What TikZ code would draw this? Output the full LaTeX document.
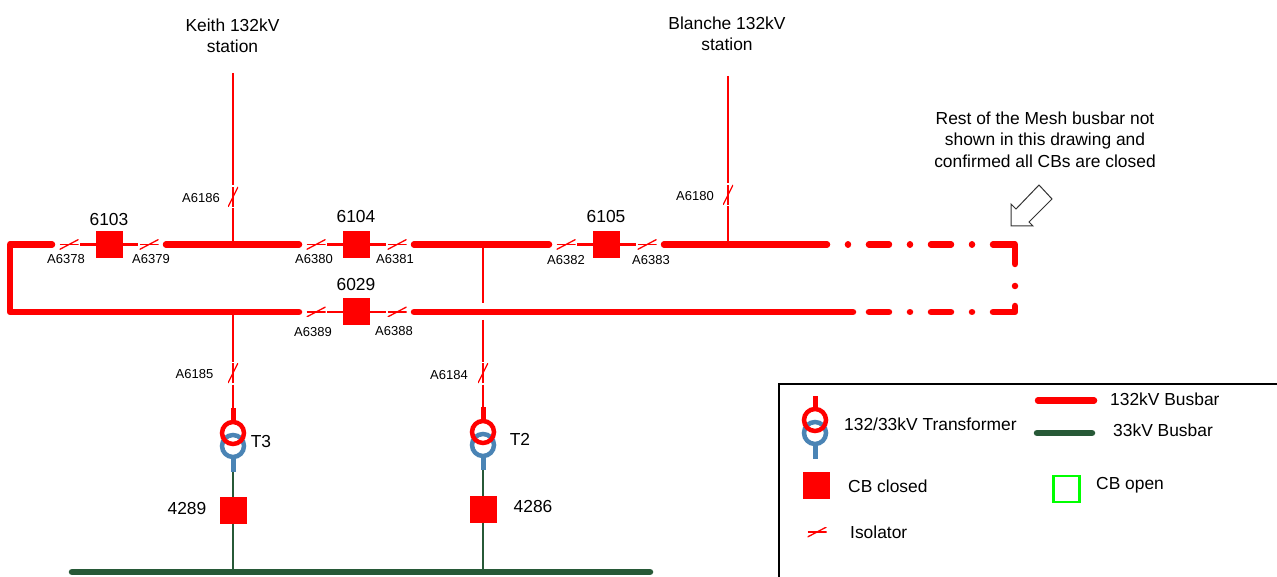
\documentclass[tikz,border=0pt]{standalone}
\usepackage{fontspec}
\setmainfont{Liberation Sans}
\definecolor{bus132}{HTML}{FF0000}
\definecolor{bus33}{HTML}{275937}
\definecolor{wdg33}{HTML}{4A84B5}
\definecolor{cbopen}{HTML}{00FF00}
\tikzset{
  cbclosed/.style={fill=bus132,minimum size=27pt,inner sep=0pt,outer sep=0pt},
  cbempty/.style={draw=cbopen,line width=2.5pt,minimum size=26pt,inner sep=0pt,outer sep=0pt},
  isoh/.style={minimum width=19pt,minimum height=10pt,inner sep=0pt,outer sep=1.5pt,
    path picture={\draw[bus132,line width=1.8pt] (path picture bounding box.west) -- (path picture bounding box.east);
      \draw[bus132,line width=1.3pt] (path picture bounding box.south west) -- (path picture bounding box.north east);}},
  isov/.style={minimum width=10pt,minimum height=20pt,inner sep=0pt,outer sep=1.5pt,
    path picture={\draw[bus132,line width=1.8pt] (path picture bounding box.south) -- (path picture bounding box.north);
      \draw[bus132,line width=1.3pt] (path picture bounding box.south west) -- (path picture bounding box.north east);}},
  wdgred/.style={circle,draw=bus132,line width=4.5pt,minimum size=22pt,inner sep=0pt,outer sep=0pt},
  wdgblue/.style={circle,draw=wdg33,line width=4.5pt,minimum size=22pt,inner sep=0pt,outer sep=0pt},
  thinred/.style={draw=bus132,line width=2.6pt},
  thingreen/.style={draw=bus33,line width=2.6pt},
  stubred/.style={draw=bus132,line width=5pt},
  stubblue/.style={draw=wdg33,line width=5pt},
  busred/.style={draw=bus132,line width=6.5pt,line cap=round,line join=round},
  busgreen/.style={draw=bus33,line width=6.5pt,line cap=round},
  dashred/.style={busred,dash pattern=on 0.01pt off 21pt on 20pt off 21pt},
  txt/.style={font=\fontsize{17.4}{21.5}\selectfont,text=black,inner sep=0pt,align=center},
  tag/.style={font=\fontsize{13}{15}\selectfont,text=black,inner sep=0pt},
}
\begin{document}
\begin{tikzpicture}[x=1pt,y=-1pt]
    \useasboundingbox (0,0) rectangle (1277,577);

    % circuit breakers
    \node [cbclosed] (cb6103) at (109,244.5) {};
    \node [cbclosed] (cb6104) at (356.5,244.5) {};
    \node [cbclosed] (cb6105) at (606,244.5) {};
    \node [cbclosed] (cb6029) at (356.5,312) {};
    \node [cbclosed] (cb4289) at (233,510) {};
    \node [cbclosed] (cb4286) at (483,509) {};

    % isolators
    \node [isoh] (iso6378) at (69,244.5) {};
    \node [isoh] (iso6379) at (149,244.5) {};
    \node [isoh] (iso6380) at (316,244.5) {};
    \node [isoh] (iso6381) at (397,244.5) {};
    \node [isoh] (iso6382) at (566,244.5) {};
    \node [isoh] (iso6383) at (647,244.5) {};
    \node [isoh] (iso6389) at (316,312) {};
    \node [isoh] (iso6388) at (397,312) {};
    \node [isov] (iso6186) at (233,197) {};
    \node [isov] (iso6180) at (728,195) {};
    \node [isov] (iso6185) at (233,373) {};
    \node [isov] (iso6184) at (483,373) {};

    % transformers
    \node [wdgblue] (t3lv) at (233,446) {};
    \node [wdgred] (t3hv) at (233,433) {};
    \node [wdgblue] (t2lv) at (483,445) {};
    \node [wdgred] (t2hv) at (483,432) {};

    % free ends
    \coordinate (keithTop) at (233,73);
    \coordinate (blancheTop) at (728,76);
    \coordinate (teeK) at (233,244.5);
    \coordinate (teeB) at (728,244.5);
    \coordinate (teeM) at (483,244.5);
    \coordinate (teeL) at (233,312);
    \coordinate (gapT) at (483,303);
    \coordinate (gapB) at (483,320);
    \coordinate (t3top) at (233,408);
    \coordinate (t2top) at (483,407);
    \coordinate (t3bot) at (233,472);
    \coordinate (t2bot) at (483,470);
    \coordinate (cornerT) at (10,244.5);
    \coordinate (cornerB) at (10,312);
    \coordinate (solidT) at (827,244.5);
    \coordinate (solidB) at (853,312);
    \coordinate (dashTa) at (972,244.5);
    \coordinate (dashTb) at (847,244.5);
    \coordinate (dashBa) at (972,312);
    \coordinate (dashBb) at (868,312);
    \coordinate (meshTa) at (993,244.5);
    \coordinate (meshTb) at (1015,264);
    \coordinate (meshBa) at (993,312);
    \coordinate (meshBb) at (1015,306);
    \coordinate (busL) at (72,572);
    \coordinate (busR) at (650,572);

    % 132kV busbars
    \draw [busred,shorten <=6pt,shorten >=6pt] (iso6378.west) -- (cornerT) -- (cornerB) -- (teeL) -- (iso6389.west);
    \draw [busred,shorten <=6pt,shorten >=6pt] (iso6379.east) -- (iso6380.west);
    \draw [busred,shorten <=6pt,shorten >=6pt] (iso6381.east) -- (iso6382.west);
    \draw [busred,shorten <=6pt] (iso6383.east) -- (solidT);
    \draw [busred,shorten <=6pt] (iso6388.east) -- (solidB);
    \draw [dashred] (dashTa) -- (dashTb);
    \draw [dashred] (dashBa) -- (dashBb);
    \draw [busred] (meshTa) -| (meshTb);
    \draw [busred] (meshBa) -| (meshBb);
    \node [circle,fill=bus132,minimum size=6.5pt,inner sep=0pt] (meshDot) at (1015,286) {};

    % breaker bays
    \draw [thinred] (iso6378) -- (cb6103) -- (iso6379);
    \draw [thinred] (iso6380) -- (cb6104) -- (iso6381);
    \draw [thinred] (iso6382) -- (cb6105) -- (iso6383);
    \draw [thinred] (iso6389) -- (cb6029) -- (iso6388);

    % feeders
    \draw [thinred] (keithTop) -- (iso6186.north);
    \draw [thinred] (iso6186.south) -- (teeK);
    \draw [thinred] (blancheTop) -- (iso6180.north);
    \draw [thinred] (iso6180.south) -- (teeB);
    \draw [thinred] (teeL) -- (iso6185.north);
    \draw [thinred] (iso6185.south) -- (t3top);
    \draw [thinred] (teeM) -- (gapT);
    \draw [thinred] (gapB) -- (iso6184.north);
    \draw [thinred] (iso6184.south) -- (t2top);
    \draw [stubred] (t3top) -- (t3hv.north);
    \draw [stubred] (t2top) -- (t2hv.north);
    \draw [stubblue] (t3lv.south) -- (t3bot);
    \draw [stubblue] (t2lv.south) -- (t2bot);

    % 33kV side
    \draw [busgreen] (busL) -- (busR);
    \draw [thingreen] (t3bot) -- (cb4289.north);
    \draw [thingreen] (t2bot) -- (cb4286.north);
    \draw [thingreen] (cb4289.south) -- (cb4289.south |- busL);
    \draw [thingreen] (cb4286.south) -- (cb4286.south |- busL);

    % labels
    \node [txt] (keith) at (232.5,36) {Keith 132kV\\station};
    \node [txt] (blanche) at (727,34) {Blanche 132kV\\station};
    \node [txt] (rest) at (1045,139.5) {Rest of the Mesh busbar not\\shown in this drawing and\\confirmed all CBs are closed};
    \node [txt] (n6103) at (109,220) {6103};
    \node [txt] (n6104) at (356,217) {6104};
    \node [txt] (n6105) at (606,217) {6105};
    \node [txt] (n6029) at (356,285) {6029};
    \node [txt] (n4289) at (187,509) {4289};
    \node [txt] (n4286) at (533,507) {4286};
    \node [txt] (nT3) at (261,442) {T3};
    \node [txt] (nT2) at (520,439) {T2};
    \node [tag] (a6186) at (201,198) {A6186};
    \node [tag] (a6378) at (66,259) {A6378};
    \node [tag] (a6379) at (151,259) {A6379};
    \node [tag] (a6380) at (314,259) {A6380};
    \node [tag] (a6381) at (395,259) {A6381};
    \node [tag] (a6382) at (566,260) {A6382};
    \node [tag] (a6383) at (651,260) {A6383};
    \node [tag] (a6180) at (695,196) {A6180};
    \node [tag] (a6389) at (313,332) {A6389};
    \node [tag] (a6388) at (394,331) {A6388};
    \node [tag] (a6185) at (194.5,374) {A6185};
    \node [tag] (a6184) at (449,375) {A6184};

    % pointer to the rest of the mesh
    \draw [draw=black!80,line width=1pt] (1011,226) -- (1011,204) -- (1016,209) -- (1039,185) -- (1052,199) -- (1029,222) -- (1033,226) -- cycle;

    % legend
    \draw [line width=2.5pt] (1277,384) -| (779,577);
    \node [wdgblue] (keyLv) at (815,433) {};
    \node [wdgred] (keyHv) at (815,420) {};
    \coordinate (keyTop) at (815,396);
    \coordinate (keyBot) at (815,459);
    \draw [stubred] (keyTop) -- (keyHv.north);
    \draw [stubblue] (keyLv.south) -- (keyBot);
    \node [txt,anchor=west] (keyT) at (844,424) {132/33kV Transformer};
    \coordinate (key132a) at (1038,400.5);
    \coordinate (key132b) at (1094,400.5);
    \draw [busred] (key132a) -- (key132b);
    \node [txt,anchor=west] (key132) at (1110,399) {132kV Busbar};
    \coordinate (key33a) at (1037,433);
    \coordinate (key33b) at (1092,433);
    \draw [busgreen] (key33a) -- (key33b);
    \node [txt,anchor=west] (key33) at (1113,430) {33kV Busbar};
    \node [cbclosed] (keyCb) at (816.5,485) {};
    \node [txt,anchor=west] (keyCbT) at (848,486) {CB closed};
    \node [cbempty] (keyOpen) at (1066.5,489) {};
    \node [txt,anchor=west] (keyOpenT) at (1096,485) {CB open};
    \node [isoh] (keyIso) at (817,532) {};
    \node [txt,anchor=west] (keyIsoT) at (850,532) {Isolator};
\end{tikzpicture}
\end{document}
